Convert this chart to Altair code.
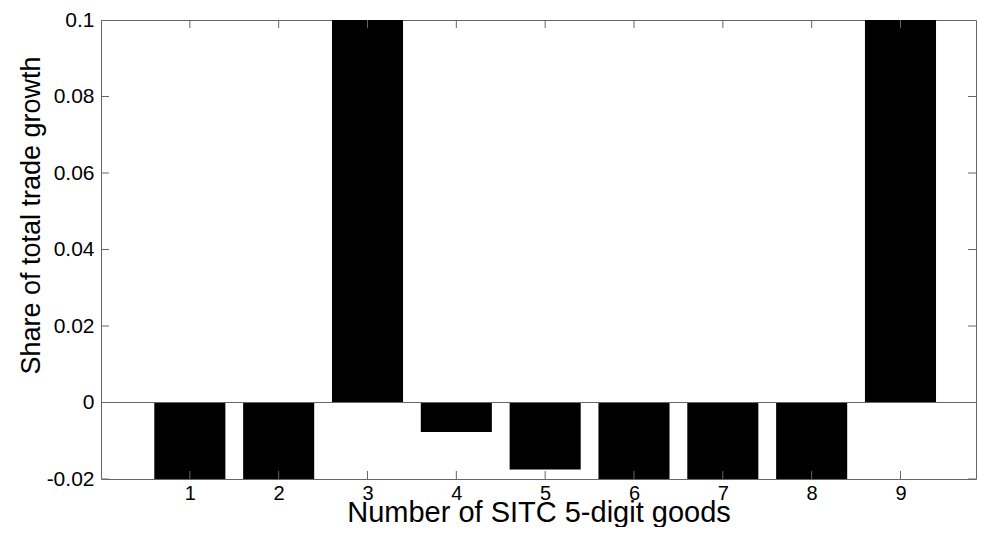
import altair as alt
import pandas as pd

# Data (bars 1,2,3,6,7,8,9 run past the axis limits)
goods = [1, 2, 3, 4, 5, 6, 7, 8, 9]
shares = [-0.045, -0.04, 0.30, -0.0077, -0.0175, -0.06, -0.05, -0.04, 0.22]
x_ticks = [1, 2, 3, 4, 5, 6, 7, 8, 9]
y_ticks = [-0.02, 0, 0.02, 0.04, 0.06, 0.08, 0.1]

X_MIN, X_MAX = 0, 9.85
Y_MIN, Y_MAX = -0.02, 0.1
FONT = "Liberation Sans"
AXIS_COLOR = "#666666"

bars_df = pd.DataFrame({"good": goods, "share": shares})
xt_df = pd.DataFrame({"t": x_ticks})
yt_df = pd.DataFrame({"t": y_ticks})

xscale = alt.Scale(domain=[X_MIN, X_MAX], nice=False, zero=False)
yscale = alt.Scale(domain=[Y_MIN, Y_MAX], nice=False, zero=False)

xaxis = alt.Axis(
    values=x_ticks, ticks=False, domain=False, grid=False,
    labelExpr="'' + datum.value",
    labelFontSize=20, labelFont=FONT, labelColor="black", labelPadding=4,
    title="Number of SITC 5-digit goods", titleFont=FONT, titleFontSize=29,
    titleFontWeight="normal", titleColor="black", titlePadding=-5,
)
yaxis = alt.Axis(
    values=y_ticks, ticks=False, domain=False, grid=False,
    labelExpr="'' + datum.value",
    labelFontSize=21, labelFont=FONT, labelColor="black", labelPadding=7,
    title="Share of total trade growth", titleFont=FONT, titleFontSize=27,
    titleFontWeight="normal", titleColor="black", titlePadding=1, titleY=195,
)

bars = alt.Chart(bars_df).transform_calculate(
    x0="datum.good - 0.4", x1="datum.good + 0.4"
).mark_bar(color="black", clip=True).encode(
    x=alt.X("x0:Q", scale=xscale, axis=xaxis),
    x2="x1:Q",
    y=alt.Y("share:Q", scale=yscale, axis=yaxis),
    y2=alt.datum(0),
)

zero_line = alt.Chart(bars_df).mark_rule(color=AXIS_COLOR, strokeWidth=1).encode(
    y=alt.datum(0)
)

tick_style = dict(color=AXIS_COLOR, thickness=1, size=16, clip=True, opacity=1)

left_ticks = alt.Chart(yt_df).mark_tick(orient="horizontal", **tick_style).encode(
    x=alt.datum(X_MIN), y=alt.Y("t:Q")
)
right_ticks = alt.Chart(yt_df).mark_tick(orient="horizontal", **tick_style).encode(
    x=alt.datum(X_MAX), y=alt.Y("t:Q")
)
bottom_ticks = alt.Chart(xt_df).mark_tick(orient="vertical", **tick_style).encode(
    x=alt.X("t:Q"), y=alt.datum(Y_MIN)
)
top_ticks = alt.Chart(xt_df).mark_tick(orient="vertical", **tick_style).encode(
    x=alt.X("t:Q"), y=alt.datum(Y_MAX)
)

chart = alt.layer(
    bars, zero_line, left_ticks, right_ticks, bottom_ticks, top_ticks
).properties(
    width=875, height=459,
    padding={"left": 9, "top": 1, "right": 0, "bottom": 0},
    background="white",
).configure_view(stroke=AXIS_COLOR, strokeWidth=1)

chart.save("out.html", embed_options={"renderer": "svg", "actions": False})
